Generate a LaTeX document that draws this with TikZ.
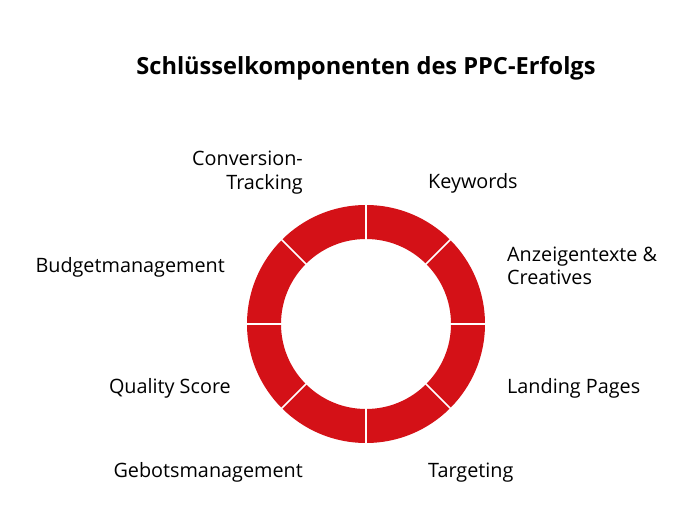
\documentclass[tikz,border=0pt]{standalone}
\usepackage{fontspec}
\setmainfont{Open Sans}
\usetikzlibrary{calc}
\definecolor{ringred}{RGB}{212,17,23}
\tikzset{
  seglabel/.style={font=\fontsize{19.8}{24}\selectfont, inner sep=0pt},
  titlelabel/.style={font=\fontsize{23.6}{29}\selectfont\bfseries, inner sep=0pt}
}
\begin{document}
\begin{tikzpicture}[x=1pt, y=1pt]
  \useasboundingbox[fill=white] (0,0) rectangle (696,528);
  \coordinate (C) at (366,204);
  \node[titlelabel, anchor=base] (title) at (366,453) {Schlüsselkomponenten des PPC-Erfolgs};
  % Ring with eight equal segments
  \fill[ringred, even odd rule] (C) circle[radius=119pt] (C) circle[radius=85pt];
  \foreach \a in {0,45,...,315}
    \draw[white, line width=1.5pt] ($(C)+(\a:84pt)$) -- ($(C)+(\a:120pt)$);
  % Labels around the ring
  \node[seglabel, anchor=base west] (keywords) at (428,339) {Keywords};
  \node[seglabel, anchor=base west, align=left] (anzeigen) at (507,243) {Anzeigentexte \&\\Creatives};
  \node[seglabel, anchor=base west] (landing) at (507,135) {Landing Pages};
  \node[seglabel, anchor=base west] (targeting) at (428,51) {Targeting};
  \node[seglabel, anchor=base east] (gebote) at (303,51) {Gebotsmanagement};
  \node[seglabel, anchor=base east] (quality) at (231,135) {Quality Score};
  \node[seglabel, anchor=base east] (budget) at (225,255) {Budgetmanagement};
  \node[seglabel, anchor=base east, align=right] (conversion) at (303,338) {Conversion-\\Tracking};
\end{tikzpicture}
\end{document}
